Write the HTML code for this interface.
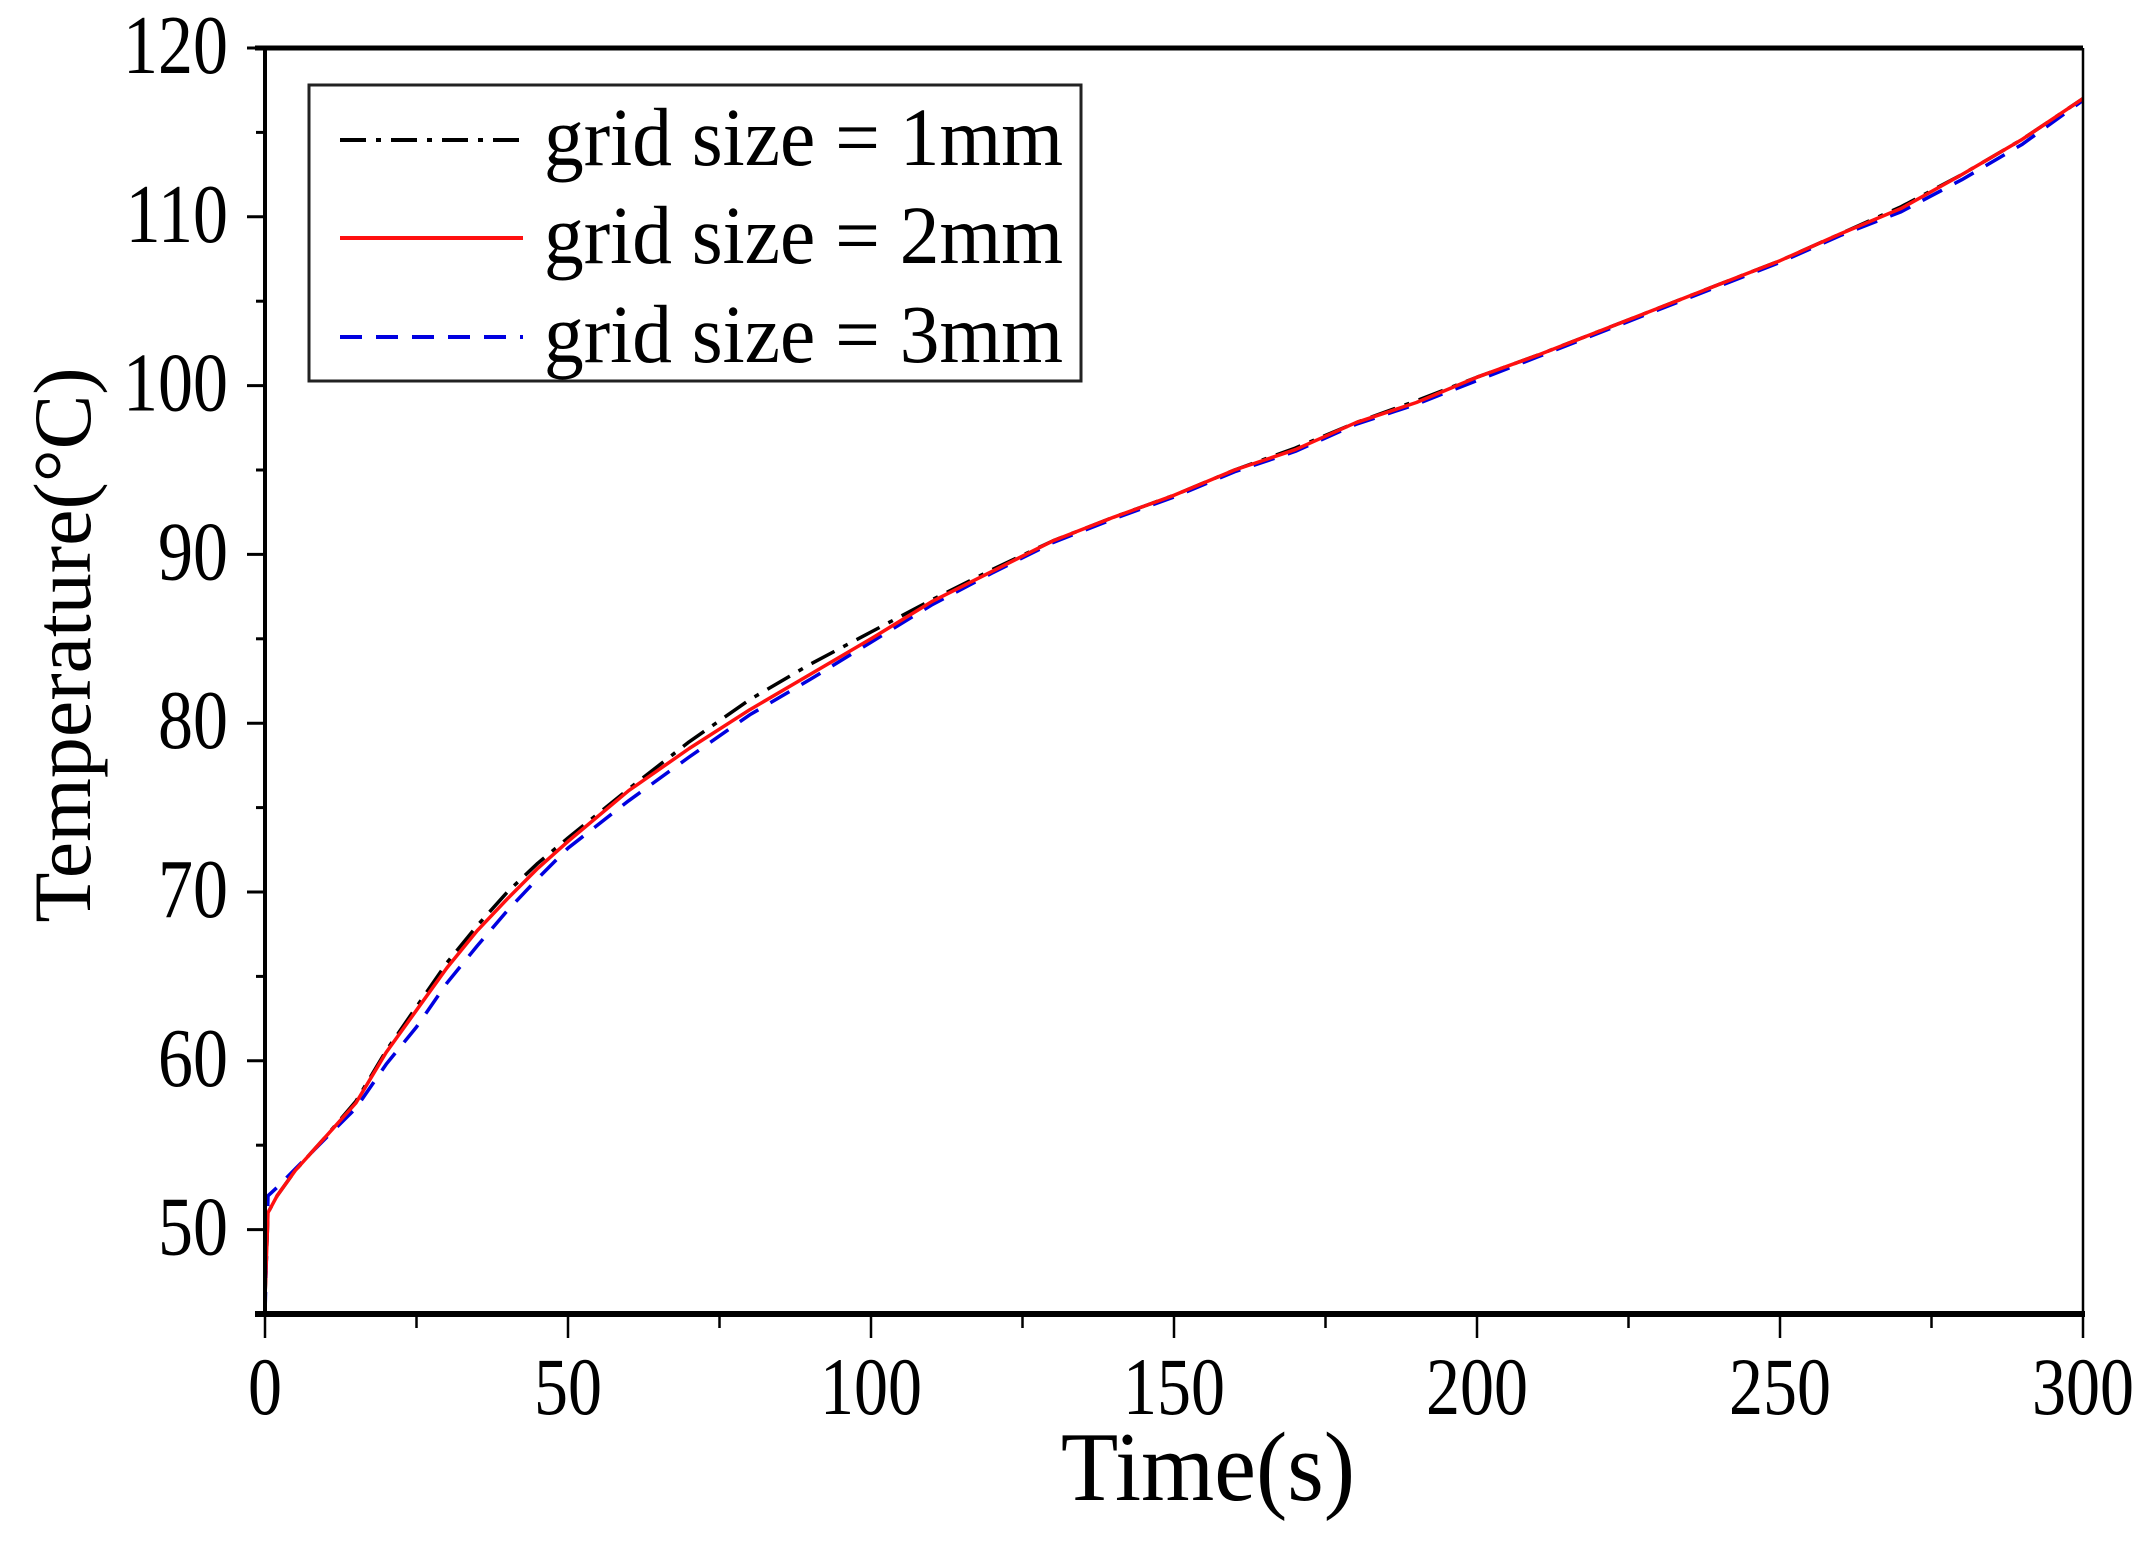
<!DOCTYPE html>
<html><head><meta charset="utf-8"><style>
html,body{margin:0;padding:0;background:#fff;}
svg{display:block;font-family:"Liberation Serif",serif;}
</style></head><body>
<svg id="chart" width="2153" height="1553" viewBox="0 0 2153 1553">
<g id="plot"></g>
<g id="axes"></g>
</svg>
<script>
const times = [0,0.5,2,5,10,15,20,25,30,35,40,45,50,60,70,80,90,100,110,120,130,140,150,160,170,180,190,200,210,220,230,240,250,260,270,280,290,300];
const temp1mm = [46,51,52,53.5,55.5,57.6,60.6,63.2,65.8,68,70,71.7,73.2,76.1,78.9,81.4,83.5,85.4,87.3,89.1,90.8,92.2,93.5,95,96.3,97.8,99.1,100.5,101.8,103.2,104.6,106,107.4,109,110.6,112.5,114.6,117];
const temp2mm = [46,51,52,53.5,55.5,57.5,60.5,63,65.5,67.7,69.6,71.4,73,76,78.5,80.8,82.9,85,87.2,89,90.8,92.2,93.5,95,96.2,97.8,99,100.5,101.8,103.2,104.6,106,107.4,109,110.5,112.5,114.6,117];
const temp3mm = [45,52,52.5,53.6,55.4,57.2,59.8,62,64.6,66.8,68.9,70.8,72.6,75.4,78,80.5,82.6,84.8,87,88.9,90.7,92.1,93.4,94.9,96.1,97.7,98.9,100.3,101.7,103.1,104.5,105.9,107.3,108.9,110.3,112.2,114.3,116.9];
const xTicks = [0,50,100,150,200,250,300];
const yTicks = [50,60,70,80,90,100,110,120];
const seriesNames = ["grid size = 1mm","grid size = 2mm","grid size = 3mm"];

const X0=265,X1=2083,Y0=1314,Y1=48,XMIN=0,XMAX=300,YMIN=45,YMAX=120;
function xs(v){return X0+(v-XMIN)/(XMAX-XMIN)*(X1-X0);}
function ys(v){return Y0-(v-YMIN)/(YMAX-YMIN)*(Y0-Y1);}
const NS="http://www.w3.org/2000/svg";
function mk(tag,attrs,parent,text){const e=document.createElementNS(NS,tag);for(const k in attrs)e.setAttribute(k,attrs[k]);if(text!==undefined)e.textContent=text;parent.appendChild(e);return e;}
const plot=document.getElementById('plot'),axes=document.getElementById('axes');

const series=[
 {d:temp1mm,c:"#000",dash:"26 10 5 10",name:"series-1mm"},
 {d:temp3mm,c:"#0000e0",dash:"22 14",name:"series-3mm"},
 {d:temp2mm,c:"#ff1010",dash:"",name:"series-2mm"}
];
series.forEach(s=>{
 const pts=times.map((t,i)=>xs(t).toFixed(1)+","+ys(s.d[i]).toFixed(1)).join(" ");
 const p=mk('polyline',{points:pts,fill:"none",stroke:s.c,"stroke-width":3.5,"stroke-dasharray":s.dash,"stroke-linejoin":"round"},plot);
 
 
});

let f=mk('line',{x1:X0,y1:Y1,x2:X0,y2:Y0+2,stroke:"#000","stroke-width":4},axes);

f=mk('line',{x1:X0-10,y1:Y0,x2:X1+2,y2:Y0,stroke:"#000","stroke-width":6},axes);

f=mk('line',{x1:X0-10,y1:Y1,x2:X1,y2:Y1,stroke:"#000","stroke-width":5},axes);

f=mk('line',{x1:X1,y1:Y1,x2:X1,y2:Y0,stroke:"#000","stroke-width":2.5},axes);


for(let v=XMIN;v<=XMAX;v+=25){
 const major=v%50===0;
 const t=mk('line',{x1:xs(v),y1:Y0,x2:xs(v),y2:Y0+(major?24:14),stroke:"#000","stroke-width":2.5},axes);
 
}
xTicks.forEach(v=>{
 const t=mk('text',{x:0,y:0,"font-size":68,"text-anchor":"middle",transform:`translate(${xs(v)},1414) scale(1,1.2)`},axes,String(v));
 
});
for(let v=YMIN;v<=YMAX;v+=5){
 const major=v%10===0;
 const t=mk('line',{x1:X0,y1:ys(v),x2:X0-(major?18:9),y2:ys(v),stroke:"#000","stroke-width":3},axes);
 
}
yTicks.forEach(v=>{
 const t=mk('text',{x:0,y:0,"font-size":70,"text-anchor":"end",transform:`translate(228,${ys(v)+25}) scale(1,1.2)`},axes,String(v));
 
});
let tt=mk('text',{x:0,y:0,"font-size":94,"text-anchor":"middle",transform:"translate(1208,1500) scale(1,1.05)"},axes,"Time(s)");

tt=mk('text',{x:0,y:0,"font-size":82,"text-anchor":"middle",transform:"translate(90,645) rotate(-90)"},axes,"Temperature(°C)");


const lg=mk('g',{},axes);

mk('rect',{x:309,y:85,width:772,height:296,fill:"#fff",stroke:"#222","stroke-width":3},lg);
const legStyles=[{c:"#000",dash:"26 10 5 10"},{c:"#ff1010",dash:""},{c:"#0000e0",dash:"22 14"}];
const legY=[140,238,337];
seriesNames.forEach((n,i)=>{
 const l=mk('line',{x1:340,y1:legY[i],x2:523,y2:legY[i],stroke:legStyles[i].c,"stroke-width":4,"stroke-dasharray":legStyles[i].dash},lg);
 
 const t=mk('text',{x:0,y:0,"font-size":70,textLength:519,lengthAdjust:"spacingAndGlyphs",transform:`translate(544,${legY[i]+25}) scale(1,1.18)`},lg,n);
 
});
</script>
</body></html>
